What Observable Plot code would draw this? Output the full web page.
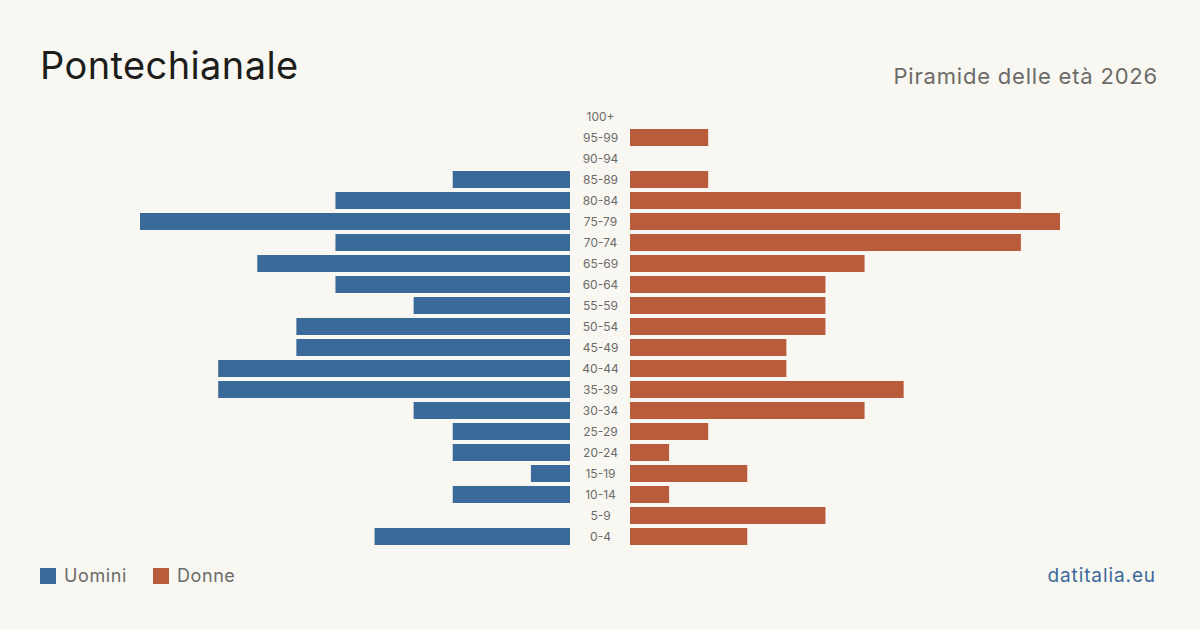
<!DOCTYPE html>
<html>
<head>
<meta charset="utf-8">
<script src="https://cdn.jsdelivr.net/npm/d3@7"></script>
<script src="https://cdn.jsdelivr.net/npm/@observablehq/plot@0.6"></script>
<style>
  html, body { margin: 0; padding: 0; background: #f9f7f2; }
  body { width: 1200px; height: 630px; position: relative; overflow: hidden; font-family: Inter, "Noto Sans", sans-serif; }
  #chart { position: absolute; left: 0; top: 0; }
  .title { position: absolute; left: 40px; top: 42px; font-size: 38px; color: #1d1d1b; letter-spacing: 0.4px; }
  .subtitle { position: absolute; right: 42px; top: 63px; font-size: 22px; color: #6b6b68; letter-spacing: 0.8px; }
  .legend { position: absolute; left: 40px; top: 565px; display: flex; align-items: center; font-size: 18px; color: #6b6b68; letter-spacing: 0.6px; }
  .legend .sw { width: 16px; height: 16px; display: inline-block; margin-right: 8px; }
  .legend .item { display: flex; align-items: center; margin-right: 26px; }
  .source { position: absolute; right: 44px; top: 564px; font-size: 19px; color: #3a6a9a; letter-spacing: 0.9px; }
</style>
</head>
<body>
<div class="title">Pontechianale</div>
<div class="subtitle">Piramide delle età 2026</div>
<div id="chart"></div>
<div class="legend">
  <span class="item"><span class="sw" style="background:#3a6a9a"></span>Uomini</span>
  <span class="item"><span class="sw" style="background:#b95c3c"></span>Donne</span>
</div>
<div class="source">datitalia.eu</div>
<script>
// Age classes, oldest first (top of the pyramid)
const ageGroups = ["100+", "95-99", "90-94", "85-89", "80-84", "75-79", "70-74", "65-69", "60-64",
  "55-59", "50-54", "45-49", "40-44", "35-39", "30-34", "25-29", "20-24", "15-19", "10-14", "5-9", "0-4"];
// Residents per age class
const men   = [0, 0, 0, 3, 6, 11, 6, 8, 6, 4, 7, 7, 9, 9, 4, 3, 3, 1, 3, 0, 5];
const women = [0, 2, 0, 2, 10, 11, 10, 6, 5, 5, 5, 4, 4, 7, 6, 2, 1, 3, 1, 5, 3];

const rows = ageGroups.map((age, i) => ({age, men: men[i], women: women[i]}));
const maxVal = d3.max([...men, ...women]);

const chart = Plot.plot({
  width: 1200,
  height: 630,
  marginLeft: 170,
  marginRight: 170,
  marginTop: 106.5,
  marginBottom: 82.5,
  style: {background: "transparent", fontFamily: "Inter, 'Noto Sans', sans-serif"},
  x: {domain: [-maxVal, maxVal], axis: null},
  y: {domain: ageGroups, axis: null, paddingInner: 0.19, paddingOuter: 0.095},
  marks: [
    Plot.barX(rows.filter(d => d.men > 0), {x1: 0, x2: d => -d.men, y: "age", fill: "#3a6a9a", dx: -30}),
    Plot.barX(rows.filter(d => d.women > 0), {x1: 0, x2: "women", y: "age", fill: "#b95c3c", dx: 30}),
    Plot.text(rows, {x: 0, y: "age", text: "age", fill: "#6b6b68", fontSize: 12, textAnchor: "middle"})
  ]
});
document.getElementById("chart").appendChild(chart);
</script>
</body>
</html>
